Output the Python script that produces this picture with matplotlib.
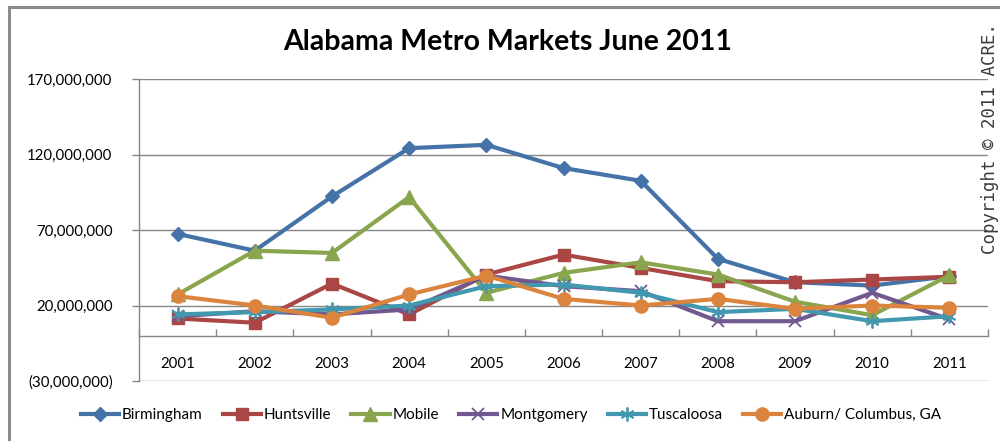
import matplotlib
matplotlib.use("Agg")
import matplotlib.pyplot as plt
from matplotlib.patches import Rectangle
from matplotlib.ticker import FuncFormatter, FixedLocator
import numpy as np

years = ["2001", "2002", "2003", "2004", "2005", "2006", "2007", "2008", "2009", "2010", "2011"]

birmingham = [67.4e6, 56.3e6, 92.2e6, 124.2e6, 126.4e6, 111.0e6, 102.6e6, 50.9e6, 35.4e6, 33.2e6, 39.4e6]
huntsville = [11.4e6, 8.6e6, 34.5e6, 14.1e6, 40.5e6, 53.7e6, 44.9e6, 36.1e6, 35.4e6, 37.2e6, 39.0e6]
mobile = [27.3e6, 56.3e6, 54.8e6, 91.8e6, 28.4e6, 41.6e6, 48.6e6, 40.5e6, 22.5e6, 13.6e6, 40.0e6]
montgomery = [12.9e6, 16.2e6, 14.1e6, 17.4e6, 39.8e6, 32.8e6, 29.5e6, 9.6e6, 9.6e6, 28.4e6, 10.8e6]
tuscaloosa = [14.1e6, 15.6e6, 17.4e6, 20.0e6, 32.8e6, 33.9e6, 28.4e6, 15.6e6, 17.8e6, 9.6e6, 12.9e6]
auburn = [26.2e6, 20.0e6, 11.9e6, 27.3e6, 39.8e6, 24.4e6, 20.0e6, 24.4e6, 17.8e6, 20.0e6, 18.5e6]

series_names = ["Birmingham", "Huntsville", "Mobile", "Montgomery", "Tuscaloosa", "Auburn/ Columbus, GA"]
y_ticks = [-30e6, 20e6, 70e6, 120e6, 170e6]

title = "Alabama Metro Markets June 2011"
copyright_text = "Copyright \u00a9 2011 ACRE."

FONT = ["Lato", "DejaVu Sans"]

fig = plt.figure(figsize=(10, 4.41), dpi=100)
fig.patch.set_facecolor("white")

# outer chart frame
fig.patches.append(Rectangle((9 / 1000, -0.05), 1.2, 1 - 7 / 441 + 0.05, transform=fig.transFigure,
                             fill=False, edgecolor="#8a8a8a", linewidth=2.2, zorder=0))

ax = fig.add_axes([139 / 1000, 1 - 381 / 441, (988 - 139) / 1000, (381 - 79) / 441])
ax.set_facecolor("none")

x = np.arange(len(years))
styles = [
    (birmingham, "#4573A8", dict(marker="D", markersize=7.5)),
    (huntsville, "#AA4643", dict(marker="s", markersize=9)),
    (mobile, "#89A54E", dict(marker="^", markersize=10)),
    (montgomery, "#71588F", dict(marker="x", markersize=9, markeredgewidth=1.3)),
    (tuscaloosa, "#4198AF", dict(marker=(6, 2, 0), markersize=10, markeredgewidth=1.3)),
    (auburn, "#DB843D", dict(marker="o", markersize=9.5)),
]
handles = []
for (vals, color, mk), name in zip(styles, series_names):
    h, = ax.plot(x, vals, color=color, linewidth=3.0, markerfacecolor=color,
                 markeredgecolor=color, label=name, zorder=3, **mk)
    handles.append(h)

ax.set_xlim(-0.5, len(years) - 0.5)
ax.set_ylim(-30e6, 170e6)

ax.yaxis.set_major_locator(FixedLocator(y_ticks))


def fmt(v, pos):
    s = "{:,.0f}".format(abs(v))
    return "({})".format(s) if v < 0 else s


ax.yaxis.set_major_formatter(FuncFormatter(fmt))
ax.grid(axis="y", color="#868686", linewidth=1.0, zorder=1)
ax.set_axisbelow(True)

for s in ["top", "right"]:
    ax.spines[s].set_visible(False)
ax.spines["left"].set_color("#868686")
ax.spines["left"].set_linewidth(1.0)
ax.spines["bottom"].set_position(("data", 0))
ax.spines["bottom"].set_color("#868686")
ax.spines["bottom"].set_linewidth(1.0)

ax.set_xticks(x)
ax.set_xticklabels(years)
ax.set_xticks(np.arange(-0.5, len(years), 1.0), minor=True)
ax.tick_params(axis="x", which="major", length=0, pad=15, labelsize=10.8)
ax.tick_params(axis="x", which="minor", direction="in", length=5, color="#868686", width=1.0)
ax.tick_params(axis="y", direction="out", length=5, color="#868686", width=1.0, pad=14, labelsize=10.8)
for lab in ax.get_xticklabels() + ax.get_yticklabels():
    lab.set_family(FONT)
    lab.set_color("black")

fig.text(0.508, 1 - 42 / 441, title, ha="center", va="center", fontsize=20.5,
         fontweight="bold", family=FONT)

fig.text(0.990, 1 - 138 / 441, copyright_text, rotation=90, ha="center", va="center",
         fontsize=12.5, family=["DejaVu Sans Mono"], color="#3a3a3a")

leg = fig.legend(handles=handles, loc="center", bbox_to_anchor=(0.511, 1 - 415 / 441), ncol=6,
                 frameon=False, prop={"family": FONT, "size": 11}, handlelength=2.5,
                 handletextpad=0.2, columnspacing=1.3, borderaxespad=0)

fig.savefig("out.png", dpi=100, facecolor="white")
